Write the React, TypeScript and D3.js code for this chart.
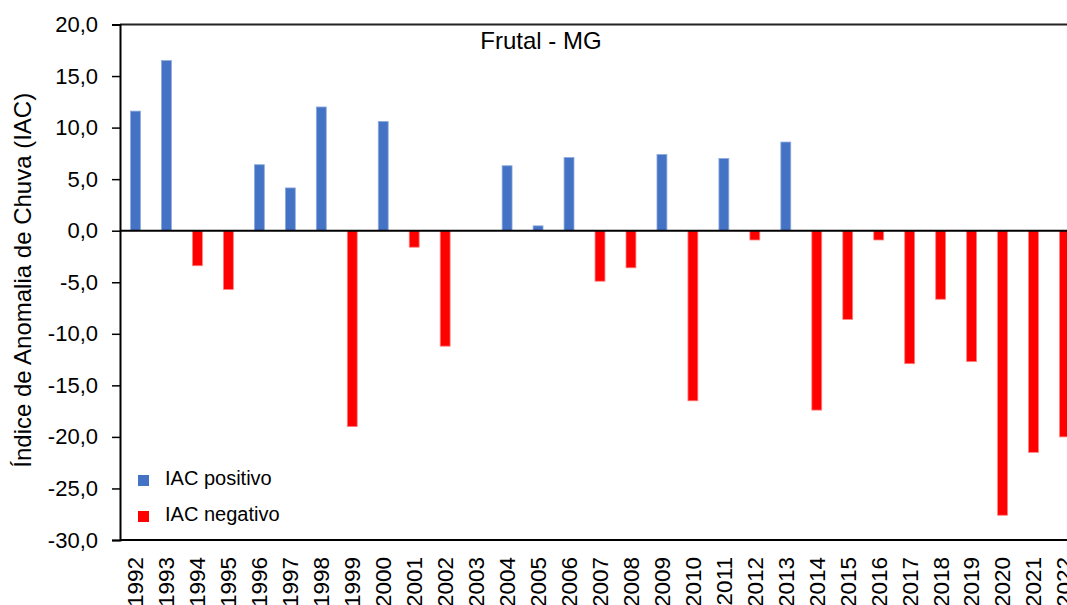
import React, { useEffect, useRef } from "react";
import * as d3 from "d3";

const years = [
  "1992", "1993", "1994", "1995", "1996", "1997", "1998", "1999", "2000", "2001",
  "2002", "2003", "2004", "2005", "2006", "2007", "2008", "2009", "2010", "2011",
  "2012", "2013", "2014", "2015", "2016", "2017", "2018", "2019", "2020", "2021",
  "2022",
];

// IAC por ano
const iacValues = [
  11.6, 16.5, -3.4, -5.7, 6.4, 4.15, 12.0, -19.0, 10.6, -1.6,
  -11.2, 0, 6.3, 0.47, 7.1, -4.9, -3.6, 7.4, -16.5, 7.0,
  -0.9, 8.6, -17.4, -8.6, -0.9, -12.9, -6.65, -12.7, -27.6, -21.5,
  -20.0,
];

const yTicks = [20, 15, 10, 5, 0, -5, -10, -15, -20, -25, -30];

const legendItems = [
  { label: "IAC positivo", color: "#4472C4" },
  { label: "IAC negativo", color: "#FF0000" },
];

const FONT = "'Liberation Sans', Arial, sans-serif";

const App: React.FC = () => {
  const svgRef = useRef<SVGSVGElement>(null);

  useEffect(() => {
    if (!svgRef.current) return;
    const width = 1067;
    const height = 605;
    const margin = { top: 24.5, left: 120, bottom: 540, right: 1080 };

    const svg = d3.select(svgRef.current);
    svg.selectAll("*").remove();
    svg.attr("width", width).attr("height", height);

    const x = d3
      .scaleBand<string>()
      .domain(years)
      .range([margin.left, margin.right])
      .paddingInner(0.68)
      .paddingOuter(0.34);

    const y = d3
      .scaleLinear()
      .domain([-30, 20])
      .range([margin.bottom, margin.top]);

    const data = years.map((yr, i) => ({ year: yr, value: iacValues[i] }));

    // bars
    svg
      .append("g")
      .selectAll("rect")
      .data(data.filter((d) => d.value !== 0))
      .enter()
      .append("rect")
      .attr("x", (d) => x(d.year)!)
      .attr("width", x.bandwidth())
      .attr("y", (d) => y(Math.max(0, d.value)))
      .attr("height", (d) => Math.abs(y(d.value) - y(0)))
      .attr("fill", (d) => (d.value > 0 ? legendItems[0].color : legendItems[1].color))
      .attr("stroke", (d) => (d.value > 0 ? "#8FAADC" : "#FF8080"))
      .attr("stroke-width", 0.8);

    // frame: top line, bottom axis, zero line
    svg
      .append("line")
      .attr("x1", margin.left)
      .attr("x2", margin.right)
      .attr("y1", y(20))
      .attr("y2", y(20))
      .attr("stroke", "#222")
      .attr("stroke-width", 2);

    svg
      .append("line")
      .attr("x1", margin.left)
      .attr("x2", margin.right)
      .attr("y1", y(-30))
      .attr("y2", y(-30))
      .attr("stroke", "#000")
      .attr("stroke-width", 2);

    svg
      .append("line")
      .attr("x1", margin.left)
      .attr("x2", margin.right)
      .attr("y1", y(0))
      .attr("y2", y(0))
      .attr("stroke", "#000")
      .attr("stroke-width", 2);

    const yAxis = svg
      .append("g")
      .attr("transform", `translate(${margin.left},0)`)
      .call(
        d3
          .axisLeft(y)
          .tickValues(yTicks)
          .tickSize(8)
          .tickPadding(14)
          .tickFormat((d) => d3.format(".1f")(d as number).replace(".", ",").replace("−", "-")),
      );
    yAxis.select(".domain").attr("stroke", "#000").attr("stroke-width", 2);
    yAxis.selectAll(".tick line").attr("stroke", "#000").attr("stroke-width", 1.5);
    yAxis
      .selectAll(".tick text")
      .attr("fill", "#000")
      .style("font-family", FONT)
      .style("font-size", "22px");

    // year labels
    svg
      .append("g")
      .selectAll("text")
      .data(years)
      .enter()
      .append("text")
      .attr("transform", (d) => `translate(${x(d)! + x.bandwidth() / 2},557) rotate(-90)`)
      .attr("text-anchor", "end")
      .attr("dy", "0.35em")
      .style("font-family", FONT)
      .style("font-size", "22.5px")
      .attr("fill", "#000")
      .text((d) => d);

    // title
    svg
      .append("text")
      .attr("x", 541)
      .attr("y", 49)
      .attr("text-anchor", "middle")
      .style("font-family", FONT)
      .style("font-size", "24px")
      .attr("fill", "#000")
      .text("Frutal - MG");

    // y axis title
    svg
      .append("text")
      .attr("transform", `translate(31,${(margin.top + margin.bottom) / 2 - 2}) rotate(-90)`)
      .attr("text-anchor", "middle")
      .style("font-family", FONT)
      .style("font-size", "24px")
      .attr("fill", "#000")
      .text("Índice de Anomalia de Chuva (IAC)");

    // legend
    const legend = svg
      .append("g")
      .selectAll("g")
      .data(legendItems)
      .enter()
      .append("g")
      .attr("transform", (_, i) => `translate(138,${475 + i * 36})`);

    legend
      .append("rect")
      .attr("width", 11)
      .attr("height", 11)
      .attr("fill", (d) => d.color);

    legend
      .append("text")
      .attr("x", 27)
      .attr("y", 10)
      .style("font-family", FONT)
      .style("font-size", "20px")
      .attr("fill", "#000")
      .text((d) => d.label);
  }, []);

  return (
    <div style={{ position: "absolute", top: 0, left: 0, background: "#fff" }}>
      <svg ref={svgRef} style={{ display: "block" }}></svg>
    </div>
  );
};

export default App;
